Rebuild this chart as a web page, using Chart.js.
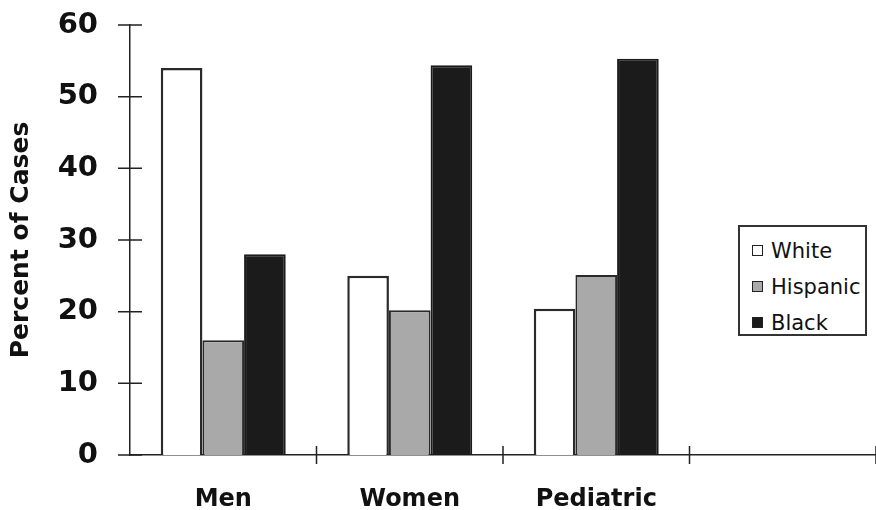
<!DOCTYPE html>
<html>
<head>
<meta charset="utf-8">
<script src="https://cdn.jsdelivr.net/npm/chart.js@4.4.1/dist/chart.umd.min.js"></script>
<style>
  html, body { margin: 0; padding: 0; background: #fff; }
  #wrap { position: relative; width: 876px; height: 510px; }
  #legend {
    position: absolute; left: 738px; top: 225px; width: 129px; height: 111px;
    border: 2px solid #333; box-sizing: border-box; background: #fff;
    font: 21px "DejaVu Sans", sans-serif; color: #111;
    padding: 10px 0 0 12px;
  }
  #legend div { height: 36px; line-height: 28px; white-space: nowrap; }
  #legend span {
    display: inline-block; width: 9px; height: 9px; border: 1.5px solid #222;
    margin-right: 8px; vertical-align: 2px;
  }
</style>
</head>
<body>
<div id="wrap">
  <canvas id="chart" width="876" height="510"></canvas>
  <div id="legend"></div>
</div>
<script>
// data
const categories = ['Men', 'Women', 'Pediatric', ''];
const white = [54, 25, 20.4, null];
const hispanic = [16, 20.2, 25.1, null];
const black = [28, 54.4, 55.3, null];
const yTicks = [0, 10, 20, 30, 40, 50, 60];

const ink = '#222';

// tick marks that cross both axis lines
const crossTicks = {
  id: 'crossTicks',
  afterDraw(chart) {
    const ctx = chart.ctx;
    const x = chart.scales.x, y = chart.scales.y;
    ctx.save();
    ctx.strokeStyle = ink;
    ctx.lineWidth = 1.5;
    ctx.beginPath();
    yTicks.forEach(v => {
      const py = y.getPixelForValue(v);
      ctx.moveTo(x.left - 12, py);
      ctx.lineTo(x.left + 12, py);
    });
    const step = (x.right - x.left) / categories.length;
    for (let i = 1; i <= categories.length; i++) {
      const px = x.getPixelForTick(i - 1) + step / 2;
      ctx.moveTo(px, y.bottom - 9);
      ctx.lineTo(px, y.bottom + 9);
    }
    ctx.stroke();
    ctx.restore();
  }
};

const chart = new Chart(document.getElementById('chart'), {
  type: 'bar',
  data: {
    labels: categories,
    datasets: [
      { label: 'White', data: white, backgroundColor: '#ffffff', borderColor: '#2a2a2a', borderWidth: 2.5 },
      { label: 'Hispanic', data: hispanic, backgroundColor: '#a9a9a9', borderColor: '#2a2a2a', borderWidth: 2 },
      { label: 'Black', data: black, backgroundColor: '#1b1b1b', borderColor: '#1b1b1b', borderWidth: 2 }
    ]
  },
  options: {
    responsive: false,
    animation: false,
    layout: { padding: { top: 25, right: 0, left: 0, bottom: 0 } },
    datasets: { bar: { categoryPercentage: 0.67, barPercentage: 1.0 } },
    plugins: { legend: { display: false }, tooltip: { enabled: false } },
    scales: {
      x: {
        grid: { display: false },
        border: { display: true, color: ink, width: 1.5 },
        ticks: {
          padding: 22,
          color: '#111',
          font: { family: 'DejaVu Sans', size: 24, weight: 'bold' }
        },
        afterFit(scale) { scale.height = 55; scale.paddingLeft = 0; scale.paddingRight = 0; }
      },
      y: {
        min: 0, max: 60,
        grid: { display: false },
        border: { display: true, color: ink, width: 1.5 },
        afterBuildTicks(scale) { scale.ticks = yTicks.map(v => ({ value: v })); },
        ticks: {
          padding: 24,
          color: '#111',
          font: { family: 'DejaVu Sans', size: 29, weight: 'bold' }
        },
        title: {
          display: true,
          text: 'Percent of Cases',
          color: '#111',
          padding: { top: 6, bottom: 0 },
          font: { family: 'DejaVu Sans', size: 25, weight: 'bold' }
        },
        afterFit(scale) { scale.width = 130; scale.paddingTop = 0; scale.paddingBottom = 0; }
      }
    }
  },
  plugins: [crossTicks]
});

// html legend built from the chart's datasets
const legendEl = document.getElementById('legend');
chart.data.datasets.forEach(ds => {
  const row = document.createElement('div');
  const sw = document.createElement('span');
  sw.style.background = ds.backgroundColor;
  row.appendChild(sw);
  row.appendChild(document.createTextNode(ds.label));
  legendEl.appendChild(row);
});
</script>
</body>
</html>
